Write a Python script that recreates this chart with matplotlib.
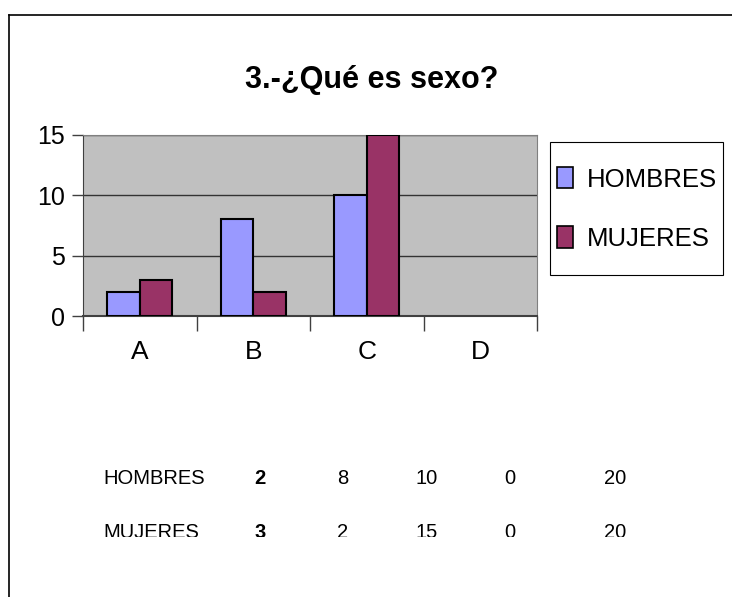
import numpy as np
import matplotlib
matplotlib.use("Agg")
import matplotlib.pyplot as plt
from matplotlib.patches import Patch, Rectangle

categories = ["A", "B", "C", "D"]
hombres = [2, 8, 10, 0]
mujeres = [3, 2, 15, 0]
totals = [20, 20]
title = "3.-¿Qué es sexo?"

font = ["Liberation Sans", "DejaVu Sans"]
plt.rcParams["font.family"] = font

fig = plt.figure(figsize=(7.32, 5.97), dpi=100)

# outer frame lines (top and left only visible)
fig.add_artist(plt.Line2D([9 / 732, 1], [1 - 15 / 597, 1 - 15 / 597], color="black", lw=1.2))
fig.add_artist(plt.Line2D([9 / 732, 9 / 732], [0, 1 - 15 / 597], color="black", lw=1.2))

ax = fig.add_axes([83 / 732, 1 - 316 / 597, 454 / 732, 181 / 597])
ax.set_facecolor("#C0C0C0")

x = np.arange(len(categories))
w = 0.286
b1 = ax.bar(x - w / 2, hombres, w, color="#9999FF", edgecolor="black", lw=1.5, zorder=3)
b2 = ax.bar(x + w / 2, mujeres, w, color="#993366", edgecolor="black", lw=1.5, zorder=3)
for p in list(b1) + list(b2):
    if p.get_height() == 0:
        p.set_linewidth(0)

ax.set_xlim(-0.5, 3.5)
ax.set_ylim(0, 15)
ax.set_yticks([0, 5, 10, 15])
ax.grid(axis="y", color="#333333", lw=1.0, zorder=1)
for s in ["top", "right"]:
    ax.spines[s].set_color("#808080")
ax.spines["left"].set_color("#404040")
ax.spines["bottom"].set_color("#404040")
ax.spines["bottom"].set_linewidth(1.5)
ax.tick_params(axis="y", length=8, width=1, color="#404040", pad=5, labelsize=18)

ax.set_xticks(x)
ax.set_xticklabels(categories, fontsize=19)
ax.tick_params(axis="x", length=0, pad=17)
ax.set_xticks(np.arange(-0.5, 4, 1), minor=True)
ax.tick_params(axis="x", which="minor", length=11, width=1, color="#404040", direction="out")

fig.text(372 / 732, 1 - 80 / 597, title, ha="center", va="center",
         fontsize=22, fontweight="bold")

# legend: frame drawn separately so it can be taller than the entries need
fig.add_artist(Rectangle((550 / 732, 1 - 275 / 597), 173 / 732, 133 / 597,
                         transform=fig.transFigure, facecolor="white",
                         edgecolor="black", lw=0.8, zorder=2))
handles = [Patch(facecolor="#9999FF", edgecolor="black", lw=1.2),
           Patch(facecolor="#993366", edgecolor="black", lw=1.2)]
leg = fig.legend(handles, ["HOMBRES", "MUJERES"], loc="center left",
                 bbox_to_anchor=(557 / 732, 1 - 209 / 597),
                 prop={"size": 18.5}, frameon=False,
                 handlelength=0.62, handleheight=0.9, handletextpad=0.55,
                 labelspacing=1.35, borderpad=0, borderaxespad=0)
leg.set_zorder(3)

# data table under the chart
cols = [260, 343, 427, 510, 615]
rows = [("HOMBRES", hombres, totals[0], 479), ("MUJERES", mujeres, totals[1], 533)]
for name, vals, tot, yp in rows:
    fig.text(103 / 732, 1 - yp / 597, name, fontsize=14.5, va="center")
    for i, v in enumerate(vals + [tot]):
        fig.text(cols[i] / 732, 1 - yp / 597, str(v), fontsize=14.5,
                 ha="center", va="center",
                 fontweight="bold" if i == 0 else "normal")

# the bottom row is cut off in the original
fig.add_artist(Rectangle((10 / 732, 0), 1, 1 - 537 / 597, transform=fig.transFigure,
                         facecolor="white", edgecolor="none", zorder=10))

fig.savefig("out.png", dpi=100)
